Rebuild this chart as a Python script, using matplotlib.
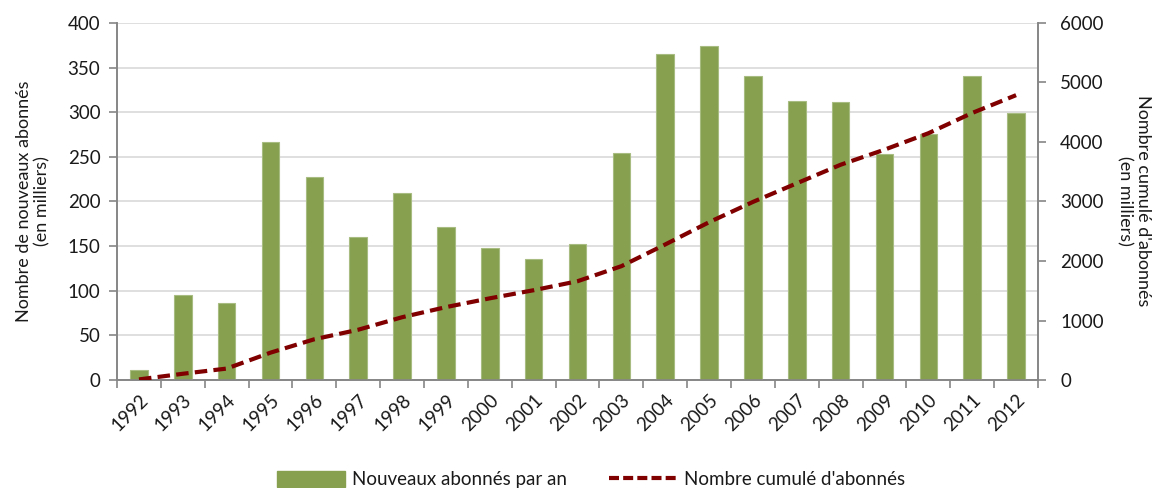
import matplotlib
matplotlib.use("Agg")
import matplotlib.pyplot as plt
import numpy as np
from matplotlib.lines import Line2D
from matplotlib.patches import Patch

plt.rcParams['font.family'] = ['Lato', 'DejaVu Sans']

years = [str(y) for y in range(1992, 2013)]
new_subs = [11, 95, 86, 267, 227, 160, 210, 171, 148, 136, 152, 254, 365, 374, 341, 313, 312, 253, 276, 341, 299]
cumul = [10, 105, 192, 460, 685, 845, 1055, 1225, 1373, 1509, 1660, 1913, 2278, 2652, 2993, 3306, 3618, 3871, 4147, 4488, 4787]

bar_color = '#86A050'
line_color = '#800000'
axis_gray = '#868686'
grid_gray = '#D9D9D9'
text_color = '#1a1a1a'
fs = 13.5
lfs = 13

fig = plt.figure(figsize=(11.59, 4.88), dpi=100)
ax = fig.add_axes([0.101, 0.2213, 0.7946, 0.7316])
ax2 = ax.twinx()

x = np.arange(len(years))
ax.bar(x, new_subs, width=0.4, color=bar_color, edgecolor='#A8BC82', linewidth=0.8, zorder=3)
ax.set_xlim(-0.5, len(years) - 0.5)
ax.set_ylim(0, 400)
ax.set_yticks(range(0, 401, 50))
ax.grid(axis='y', color=grid_gray, linewidth=1.2, zorder=0)
ax.set_axisbelow(True)

ax2.plot(x, cumul, color=line_color, linewidth=3, linestyle=(0, (3.0, 1.5)), zorder=4)
ax2.set_ylim(0, 6000)
ax2.set_yticks(range(0, 6001, 1000))

ax.set_xticks(x)
ax.set_xticklabels(years, rotation=45, ha='right', rotation_mode='anchor', fontsize=fs, color=text_color)
ax.tick_params(axis='x', length=0, pad=8)
ax.set_xticks(np.arange(-0.5, len(years), 1), minor=True)
ax.tick_params(axis='x', which='minor', length=6, color=axis_gray, width=1.2, direction='out')

ax.tick_params(axis='y', labelsize=fs, colors=text_color, length=6, color=axis_gray, width=1.2, pad=6)
ax2.tick_params(axis='y', labelsize=fs, colors=text_color, length=6, color=axis_gray, width=1.2, pad=10)

for a in (ax, ax2):
    a.spines['top'].set_visible(False)
    for s in ('left', 'right', 'bottom'):
        a.spines[s].set_color(axis_gray)
        a.spines[s].set_linewidth(1.2)

ax.set_ylabel("Nombre de nouveaux abonnés\n(en milliers)", fontsize=lfs, color=text_color, labelpad=12, linespacing=1.2)
fig.text(1134 / 1159, 1 - 201 / 488, "Nombre cumulé d'abonnés\n(en milliers)", fontsize=lfs, color=text_color,
         rotation=270, ha='center', va='center', multialignment='center', linespacing=1.2)

handles = [Patch(facecolor=bar_color, edgecolor=bar_color),
           Line2D([0], [0], color=line_color, linewidth=3, linestyle=(0, (2.4, 1.0)))]
labels = ["Nouveaux abonnés par an", "Nombre cumulé d'abonnés"]
fig.legend(handles, labels, loc='lower center', bbox_to_anchor=(0.51, -0.035), ncol=2, frameon=False,
           fontsize=fs, handlelength=3.6, handleheight=0.9, columnspacing=2.2, handletextpad=0.4,
           labelcolor=text_color)

fig.savefig("out.png", dpi=100)
